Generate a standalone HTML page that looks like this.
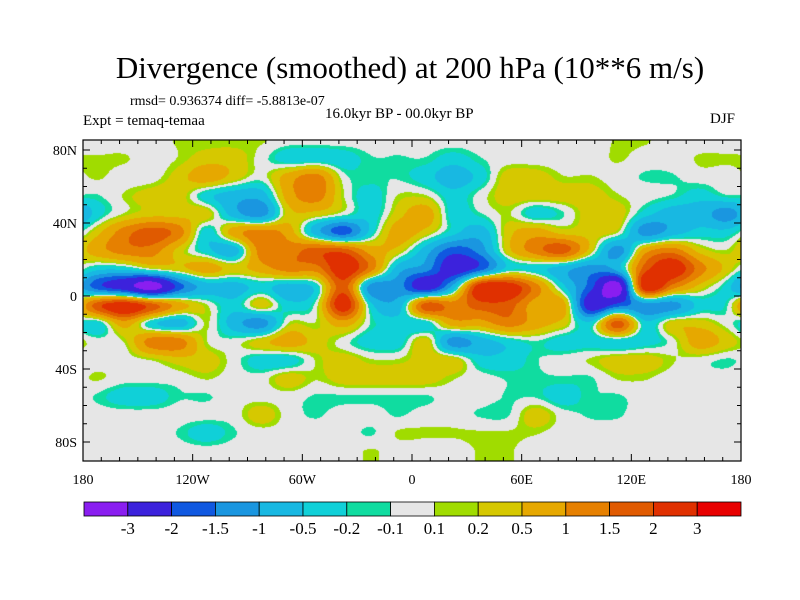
<!DOCTYPE html>
<html><head><meta charset="utf-8">
<style>
body{margin:0;background:#fff;width:800px;height:600px;overflow:hidden;position:relative;font-family:"Liberation Serif",serif;}
.t{position:absolute;white-space:nowrap;color:#000;}
canvas{position:absolute;left:83px;top:140px;}
svg{position:absolute;left:0;top:0;}
</style></head><body>
<div class="t" style="left:0;width:820px;text-align:center;top:50px;font-size:31px;">Divergence (smoothed) at 200 hPa (10**6 m/s)</div>
<div class="t" style="left:130px;top:94px;font-size:14px;">rmsd= 0.936374 diff= -5.8813e-07</div>
<div class="t" style="left:325px;top:106px;font-size:15px;">16.0kyr BP - 00.0kyr BP</div>
<div class="t" style="left:83px;top:113px;font-size:15px;">Expt = temaq-temaa</div>
<div class="t" style="left:710px;top:111px;font-size:15px;">DJF</div>
<canvas id="map" width="658" height="321"></canvas>
<svg id="ov" width="800" height="600"></svg>
<script>
const levels=[-3,-2,-1.5,-1,-0.5,-0.2,-0.1,0.1,0.2,0.5,1,1.5,2,3];
const levelLabels=["-3","-2","-1.5","-1","-0.5","-0.2","-0.1","0.1","0.2","0.5","1","1.5","2","3"];
const colors=["#8a1ef0","#3c22dc","#1058e0","#1a96e0","#18b8e2","#10d0d8","#10dca0","#e6e6e6","#a0dc00","#d6c800","#e6a800","#e68000","#e05a00","#e03000","#e80000"];
const lonTicks=["180","120W","60W","0","60E","120E","180"];
const latTicks=["80N","40N","0","40S","80S"];
const latVals=[80,40,0,-40,-80];
// grid: 24 columns (15° lon, centers -172.5..172.5), 18 rows (10° lat, centers 85..-85)
const r00=[0,0,0,0.12,0.12,0.12,0.12,0,0,0,0,0,0,0,0,0,0,0,0,0.12,0.12,0,0,0];
const r01=[0.12,0.12,0,0.12,0.35,0.35,0,-0.35,-0.35,-0.35,-0.12,-0.12,-0.12,-0.35,-0.12,0,0,0,0,0.12,0,0,0.12,0.12];
const r02=[0.12,0,0,0.35,0.75,0.35,0,0.75,1.25,0,-0.12,-0.12,-0.35,-0.75,-0.35,0.35,0.35,0.12,0.12,0,-0.12,-0.12,0,0];
const r03=[-0.12,0.12,0.35,0.35,-0.35,-0.75,-0.75,0.75,1.25,0.12,-0.35,0.12,0.12,-0.35,0,0.35,0.35,0.35,0.35,0.12,0,-0.12,-0.35,-0.12];
const r04=[-0.35,0.12,0.35,0.35,0.35,-0.75,-1.25,0.35,0.35,0,-0.35,0.35,0.75,-0.35,-0.12,0.12,-0.35,-0.12,0.35,0.35,-0.35,-0.75,-0.75,-1.25];
const r05=[0.35,1.25,1.75,1.25,-0.35,0.75,1.25,0.75,-0.75,-1.75,-0.35,0.75,0.35,-0.35,-0.75,0.35,0.75,0.35,0.35,0.12,-1.25,-0.75,-0.35,-0.35];
const r06=[0.75,1.25,1.25,0.35,-0.35,-0.75,1.25,1.25,1.75,1.75,0.75,0.35,-0.75,-1.75,-1.25,0.35,1.25,1.75,0.35,-1.25,0.75,1.25,0.35,0.12];
const r07=[-0.35,-0.35,0.12,0.35,0.75,0.35,0.75,1.25,1.25,2.5,1.25,-0.75,-1.25,-2.5,-1.75,-0.35,-0.35,-0.75,-1.25,-0.75,1.75,2.5,1.25,0.35];
const r08=[-1.75,-2.5,-3.5,-1.75,-0.75,-0.75,-0.35,-0.75,-0.35,1.75,-1.25,-1.25,-2.5,-0.75,2.5,2.5,1.25,-0.35,-1.75,-3.5,2.5,1.25,0.35,-0.35];
const r09=[1.75,2.5,1.75,0.75,0.12,-0.35,0.35,-0.35,0,2.5,-0.35,-0.75,1.75,1.25,1.75,1.75,0.75,0.75,-2.5,-1.75,-1.25,-1.25,-0.35,-0.12];
const r10=[-0.35,0.75,-0.35,-0.75,0.12,-0.75,-1.25,0.12,0.12,0.75,-0.12,-0.35,-0.35,0.75,0.75,1.25,0.75,0.35,-0.35,1.75,-0.35,0.35,0.35,0];
const r11=[0,0.12,1.25,1.25,0.12,0,0.35,0.75,0.35,0,-0.35,-0.35,0.35,-1.25,-0.75,-0.35,-0.12,-0.35,-0.35,-0.35,-0.35,0,0.75,0.35];
const r12=[0,0,0.12,0.35,0.35,0,-0.35,-0.35,0.12,0.35,0.12,0.12,0.35,0.35,-0.35,-0.35,-0.12,0,0.12,0.35,0.35,0.12,0,-0.12];
const r13=[0.12,0,0,0,0.12,0,0,0.35,0.12,0.35,0.35,0.35,0.35,0.12,0,-0.12,-0.12,-0.12,-0.12,0.12,0.12,0,0,0];
const r14=[-0.12,-0.35,-0.35,-0.12,-0.12,0,0,0,-0.12,-0.12,-0.12,-0.12,-0.12,0,0,-0.12,-0.12,-0.35,-0.12,-0.12,0,0,0,0];
const r15=[0,0,0,0,0,0,0.35,0,-0.12,0,0,-0.12,0,0,-0.12,-0.12,0.35,0,-0.12,-0.12,0,0,0,0];
const r16=[0,0,0,-0.12,-0.35,-0.12,0,0,0,0,-0.12,0.12,0.12,0.12,0.12,0.12,0.12,0,0,0,0,0,0,0];
const r17=[0,0,0,0,0,0,0,0,0,0,0.12,0,0,0,0.12,0.12,0,0,0,0,0,0,0,0];
const grid=[r00,r01,r02,r03,r04,r05,r06,r07,r08,r09,r10,r11,r12,r13,r14,r15,r16,r17];

const X0=83,X1=741,Y0=140,Y1=461;
const pxPerDeg=(X1-X0)/360, pyPerDeg=1.825, yEq=296;
const xOf=lon=>X0+(lon+180)*pxPerDeg;
const yOf=lat=>yEq-lat*pyPerDeg;
function colorIdx(v){let i=0;while(i<levels.length&&v>=levels[i])i++;return i;}
function hex(c){return [parseInt(c.substr(1,2),16),parseInt(c.substr(3,2),16),parseInt(c.substr(5,2),16)];}
const rgb=colors.map(hex);
const nc=grid[0].length,nr=grid.length;
function cr(p0,p1,p2,p3,t){return 0.5*((2*p1)+(-p0+p2)*t+(2*p0-5*p1+4*p2-p3)*t*t+(-p0+3*p1-3*p2+p3)*t*t*t);}
function G(r,c){r=Math.max(0,Math.min(nr-1,r));c=((c%nc)+nc)%nc;return grid[r][c];}
const cv=document.getElementById('map'),ctx=cv.getContext('2d');
const W=cv.width,H=cv.height,img=ctx.createImageData(W,H);
for(let py=0;py<H;py++){
  const lat=(yEq-(Y0+py+0.5))/pyPerDeg;
  let fr=(85-lat)/10; fr=Math.max(0,Math.min(nr-1,fr));
  const r0=Math.floor(fr),ty=fr-r0;
  for(let px=0;px<W;px++){
    const lon=(px+0.5)/pxPerDeg-180;
    let fc=(lon+172.5)/15;
    const c0=Math.floor(fc),tx=fc-c0;
    const rows=[];
    for(let j=-1;j<=2;j++){rows.push(cr(G(r0+j,c0-1),G(r0+j,c0),G(r0+j,c0+1),G(r0+j,c0+2),tx));}
    const v=cr(rows[0],rows[1],rows[2],rows[3],ty);
    const c=rgb[colorIdx(v)],k=(py*W+px)*4;
    img.data[k]=c[0];img.data[k+1]=c[1];img.data[k+2]=c[2];img.data[k+3]=255;
  }
}
ctx.putImageData(img,0,0);

const svg=document.getElementById('ov');const NS="http://www.w3.org/2000/svg";
function el(t,a,p){const e=document.createElementNS(NS,t);for(const k in a)e.setAttribute(k,a[k]);(p||svg).appendChild(e);return e;}
const frame=el('rect',{x:X0,y:Y0,width:X1-X0,height:Y1-Y0,fill:'none',stroke:'#000','stroke-width':1.2});


for(let lon=-180;lon<=180;lon+=10){
  const x=xOf(lon),len=(lon%60===0)?7:4;
  el('line',{x1:x,y1:Y1,x2:x,y2:Y1-len,stroke:'#000','stroke-width':1});
  el('line',{x1:x,y1:Y0,x2:x,y2:Y0+len,stroke:'#000','stroke-width':1});
}
for(let lat=-80;lat<=80;lat+=10){
  const y=yOf(lat),len=(lat%40===0)?7:4;
  el('line',{x1:X0,y1:y,x2:X0+len,y2:y,stroke:'#000','stroke-width':1});
  el('line',{x1:X1,y1:y,x2:X1-len,y2:y,stroke:'#000','stroke-width':1});
}
lonTicks.forEach((s,i)=>{
  const t=el('text',{x:xOf(-180+60*i),y:484,'text-anchor':'middle','font-size':14,'font-family':'Liberation Serif, serif'});
  t.textContent=s;
  
  
});
latTicks.forEach((s,i)=>{
  const t=el('text',{x:77,y:yOf(latVals[i])+5,'text-anchor':'end','font-size':14,'font-family':'Liberation Serif, serif'});
  t.textContent=s;
  
  
});
const CB0=84,CB1=741,cw=(CB1-CB0)/colors.length;
colors.forEach((c,i)=>{
  const r=el('rect',{x:CB0+i*cw,y:502,width:cw,height:14,fill:c,stroke:'#000','stroke-width':0.8});
  
  
});
levelLabels.forEach((s,i)=>{
  const t=el('text',{x:CB0+(i+1)*cw,y:534,'text-anchor':'middle','font-size':17,'font-family':'Liberation Serif, serif'});
  t.textContent=s;
  
  
});
</script>
</body></html>
